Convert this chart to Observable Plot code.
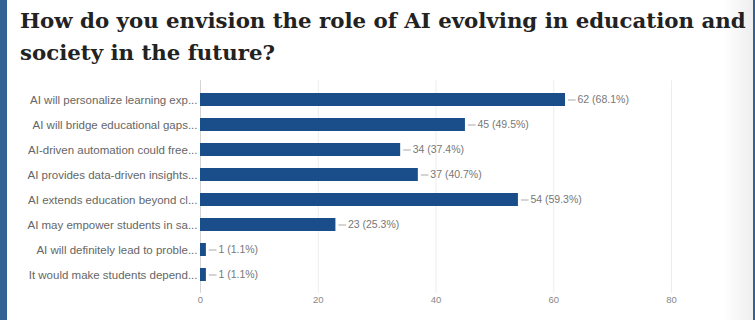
<!DOCTYPE html>
<html>
<head>
<meta charset="utf-8">
<script src="https://cdn.jsdelivr.net/npm/d3@7"></script>
<script src="https://cdn.jsdelivr.net/npm/@observablehq/plot@0.6"></script>
<style>
  html, body { margin: 0; padding: 0; background: #fff; }
  #frame {
    position: relative; width: 755px; height: 320px; box-sizing: border-box;
    border-left: 7px solid #336394; border-right: 2px solid #336394;
    background: linear-gradient(to right, #fff 0, #fff 96%, #eee 100%);
    overflow: hidden;
  }
  #title {
    position: absolute; left: 13px; top: 5px; width: 745px; white-space: nowrap;
    font-family: "DejaVu Serif", serif; font-weight: bold; font-size: 21.3px;
    line-height: 32px; color: #222;
  }
  #chart { position: absolute; left: 0; top: 80px; line-height: 0; }
  #chart svg { display: block; }
</style>
</head>
<body>
<div id="frame">
  <div id="title">How do you envision the role of AI evolving in education and<br>society in the future?</div>
  <div id="chart"></div>
</div>
<script>
const labels = [
  "AI will personalize learning exp...",
  "AI will bridge educational gaps...",
  "AI-driven automation could free...",
  "AI provides data-driven insights...",
  "AI extends education beyond cl...",
  "AI may empower students in sa...",
  "AI will definitely lead to proble...",
  "It would make students depend..."
];
const counts = [62, 45, 34, 37, 54, 23, 1, 1];
const percents = ["68.1%", "49.5%", "37.4%", "40.7%", "59.3%", "25.3%", "1.1%", "1.1%"];
const xTicks = [0, 20, 40, 60, 80];

const data = labels.map((label, i) => ({label, value: counts[i], text: `${counts[i]} (${percents[i]})`}));

const chart = Plot.plot({
  width: 746,
  height: 240,
  marginLeft: 193,
  marginRight: 82,
  marginTop: 0.25,
  marginBottom: 27.25,
  style: {fontFamily: "Arial, 'Liberation Sans', sans-serif", background: "transparent"},
  x: {domain: [0, 80], ticks: xTicks, label: null},
  y: {domain: labels, padding: 0.48, label: null},
  marks: [
    Plot.gridX(xTicks, {stroke: "#ececec", strokeOpacity: 1}),
    Plot.ruleX([0], {stroke: "#d4d4d4"}),
    Plot.barX(data, {y: "label", x: "value", fill: "#1a4e8a"}),
    Plot.ruleY(data, {y: "label", x1: "value", x2: d => d.value + 1.3, dx: 3, stroke: "#aaa"}),
    Plot.text(data, {y: "label", x: "value", text: "text", dx: 12, textAnchor: "start", fill: "#777", fontSize: 10.5}),
    Plot.axisY({tickSize: 0, tickPadding: 3, fontSize: 11.5, color: "#666"}),
    Plot.axisX({ticks: xTicks, tickSize: 0, tickPadding: 3, fontSize: 9.5, color: "#888"})
  ]
});
document.getElementById("chart").appendChild(chart);
</script>
</body>
</html>
